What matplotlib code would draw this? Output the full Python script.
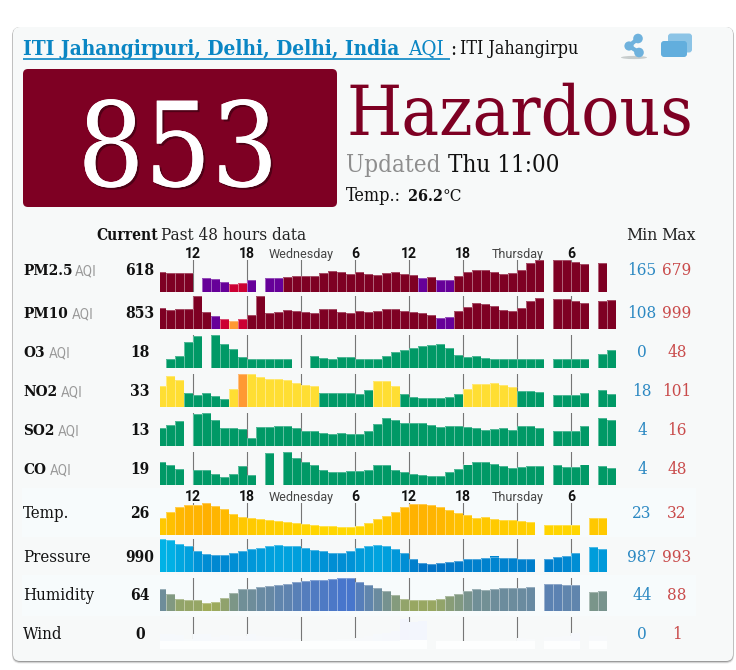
import numpy as np
import matplotlib
matplotlib.use("Agg")
import matplotlib.pyplot as plt
from matplotlib.colors import LinearSegmentedColormap
from matplotlib.patches import FancyBboxPatch, Circle, Rectangle, Ellipse
import matplotlib.patheffects as pe

n = np.nan
row_names = ["PM2.5", "PM10", "O3", "NO2", "SO2", "CO", "Temp.", "Pressure", "Humidity", "Wind"]
row_current = ["618", "853", "18", "33", "13", "19", "26", "990", "64", "0"]
row_min = [165, 108, 0, 18, 4, 4, 23, 987, 44, 0]
row_max = [679, 999, 48, 101, 16, 48, 32, 993, 88, 1]

pm25 = [429,393,393,393,n,293,279,205,165,193,244,n,293,293,322,329,336,336,408,451,415,372,429,379,358,408,429,379,351,293,308,251,251,344,422,472,465,429,386,408,465,608,679,n,679,679,643,601,n,622,n]
pm10 = [559,488,536,536,999,429,286,179,108,179,310,999,381,429,488,464,417,381,536,548,441,393,476,417,476,524,548,476,441,381,334,215,251,476,607,761,725,643,500,464,559,809,916,n,904,892,821,738,n,821,856]
o3 = [n,1,8,34,47,n,48,31,21,6,1,1,1,1,1,n,n,7,3,1,6,6,1,1,1,8,14,19,23,26,29,30,23,9,5,7,3,1,1,1,1,1,1,n,1,1,1,1,n,11,18]
no2 = [60,94,82,37,31,38,28,19,51,101,100,90,86,84,80,70,64,60,38,38,38,37,35,47,78,78,60,36,25,21,21,22,25,33,52,67,67,70,64,57,46,46,40,n,31,31,31,38,n,47,33]
so2 = [8.6,10.2,12.2,n,15.4,15.9,12.4,8.9,8.6,8.3,4.2,9.1,9.2,9.5,9.5,8.6,7.3,7.2,6.5,6.1,6.4,6.1,6.1,7.3,10.6,13.3,12.5,11.1,11,11,10.2,9.1,9.5,9.5,9.1,8.6,7.8,8.4,8.6,8,9.7,9.5,8.9,n,7.2,7.2,7.3,9.7,n,13.6,12.5]
co = [30,25,18,n,16,16,9,4,10,23,8,n,47,n,48,38,31,25,16,12,12,15,15,16,25,25,16,12,9,8,6,6,12,18,26,31,30,27,24,19,22,24,23,n,25,22,21,26,n,23,19]
temp = [26.5,28.4,30.4,31.1,31.1,32,30.8,29.7,27.7,26.6,26.2,25.8,25.6,25.1,24.7,24.5,24,23.7,23.5,23.4,23,23,23.5,24.5,26,27.2,28.7,30.5,31.6,31.4,31.1,30.5,29.2,28.3,27.6,26.5,26.6,26.1,25.7,25.6,25.3,24.8,n,23.9,23.7,23.6,23.6,n,26.5,26.3,n]
pressure = [993,992.8,991.9,991.3,990.1,989.4,989.1,989.2,989.6,990,990.5,990.9,991.3,991.5,991.4,991.2,990.9,990.4,990,989.6,989.6,990,990.8,991.2,991.6,991.2,990.5,989.6,988.2,987.3,987,987.2,987.4,987.7,988.2,988.3,988.5,988.8,988.5,988.4,988.3,988.1,n,988.1,988.6,989,989.6,n,991,990.7,n]
humidity = [69,59.5,51,49.4,49,44,46,52,62,68,69,72,73,76,77,80,82,84,85,86,88,88,81,76,71,65,58,51,48,48,48,51,56,59.5,64,68,67,69,70,70,71,72,n,78,78,76,76,n,63,64,n]
wind = [.3,.3,.25,.1,.28,.3,.15,.25,.22,.2,.28,.2,.15,.15,.12,.1,0,.05,.05,.05,.08,.08,.12,.2,.3,.35,.4,.9,.81,.85,n,.02,.02,.02,0,.02,.02,.02,.02,.02,.12,.08,n,.15,.18,.2,.32,n,.2,.2,n]
series = [pm25, pm10, o3, no2, so2, co, temp, pressure, humidity, wind]

hour_slots = [4, 10, 16, 22, 28, 34, 40, 46]
hour_labels = ["12", "18", "Wednesday", "6", "12", "18", "Thursday", "6"]

AQI_LEVELS = [50, 100, 150, 200, 300]
AQI_COLORS = ["#009966", "#FFDE33", "#FF9933", "#CC0033", "#660099", "#7E0023"]
row_tops = [260, 296, 335, 374, 412.7, 452, 502.7, 539, 578, 617]
row_bases = [292, 329, 367.7, 407, 446, 485, 535, 572, 610.7, 649]
cmaps = {6: ["#FFD800", "#FFB000"], 7: ["#0072C6", "#00B2E6"], 8: ["#A0AC58", "#4876CC"], 9: ["#F8FAFB", "#F2F5FD"]}
text_base = [275, 318, 357, 396, 435, 474, 518, 562, 600, 639]
aqi_x = [75, 72, 49, 61, 58, 50]

W, H = 736, 670
fig = plt.figure(figsize=(W / 100, H / 100), dpi=100, facecolor="white")
bg = fig.add_axes([0, 0, 1, 1], zorder=0)
bg.set_xlim(0, W); bg.set_ylim(H, 0); bg.axis("off")

SERIF = dict(family="DejaVu Serif", stretch="condensed")
def px(p):
    return p * 0.72
def T(x, y, s, size, color="#111111", weight="normal", ha="left", fam=None, **kw):
    props = dict(SERIF) if fam is None else dict(family=fam)
    return bg.text(x, y, s, fontsize=px(size), color=color, weight=weight, ha=ha, va="baseline", zorder=6, **props, **kw)

# card and shadow
for off, a in [(2.6, .10), (1.8, .22), (1.0, .4)]:
    bg.add_patch(FancyBboxPatch((13 - off * .4, 27), 720 + off * .8, 634 + off, boxstyle="round,pad=0,rounding_size=8",
                                fc="#555555", ec="none", alpha=a, zorder=1))
CARD = "#F7F9F9"
bg.add_patch(FancyBboxPatch((13, 27), 720, 634, boxstyle="round,pad=0,rounding_size=7", fc=CARD, ec="none", zorder=2))
for y0, y1 in [(488, 537), (575, 616)]:
    bg.add_patch(Rectangle((22, y0), 674, y1 - y0, fc="#F7FBFC", ec="none", zorder=3))

# title
LINK = "#0A86C4"
t1 = T(23, 55, "ITI Jahangirpuri, Delhi, Delhi, India", 20.8, LINK, "bold")
t2 = T(408, 55, "AQI", 20.5, LINK)
t3 = T(450, 55, ":", 20.5, "#111111")
t4 = T(460, 54, "ITI Jahangirpuri, Delhi", 17.8, "#111111")
t4.set_clip_path(Rectangle((0, 0), 578, H, transform=bg.transData))
t4.set_clip_on(True)
bg.plot([23, 450], [58.5, 58.5], color=LINK, lw=1.2, zorder=6, solid_capstyle="butt")

# share icon and window icon
ic = "#6FB2DD"
bg.add_patch(Ellipse((634, 57.5), 26, 3.2, fc="#C8CDCD", ec="none", zorder=4))
bg.plot([638, 629, 639], [38.5, 46, 52.5], color=ic, lw=3, zorder=5)
for cx, cy, r in [(638, 38.5, 4.8), (629, 46, 4.6), (639, 52.5, 4.8)]:
    bg.add_patch(Circle((cx, cy), r, fc=ic, ec="none", zorder=5))
bg.add_patch(FancyBboxPatch((668, 33.5), 24, 19, boxstyle="round,pad=0,rounding_size=3", fc="#8CC4E6", ec="none", zorder=4))
bg.add_patch(FancyBboxPatch((661, 41), 26, 16, boxstyle="round,pad=0,rounding_size=3", fc="#62AEDD", ec="none", zorder=5))

# big AQI box
bg.add_patch(FancyBboxPatch((23, 69), 314, 138, boxstyle="round,pad=0,rounding_size=5", fc="#7E0023", ec="none", zorder=3))
t = T(178, 186, "853", 117, "white", ha="center")
t.set_path_effects([pe.withSimplePatchShadow(offset=(1.5, -1.5), shadow_rgbFace="#30000E", alpha=.6), pe.Normal()])
T(346, 135, "Hazardous", 70.5, "#7E0023")
T(346, 172, "Updated", 24, "#8E8E8E")
T(448, 172, "Thu 11:00", 24, "#111111")
T(346, 201, "Temp.:", 18, "#111111")
T(408, 201, "26.2", 16, "#111111", "bold")
T(443, 201, "°C", 17, "#111111")

# table headers
T(158, 240, "Current", 15.5, "#111111", "bold", ha="right")
T(161, 240, "Past 48 hours data", 17, "#222222")
T(626, 240, "Min", 17.5, "#222222")
T(661, 240, "Max", 17.5, "#222222")

slots = np.arange(len(pm25))
X0, X1, SLOT0 = 160, 616, 156.7
tick_pos = [s + 0.067 for s in hour_slots]
for i, name in enumerate(row_names):
    top, base = row_tops[i], row_bases[i]
    ax = fig.add_axes([X0 / W, 1 - base / H, (X1 - X0) / W, (base - top) / H], zorder=2)
    ax.patch.set_alpha(0)
    for s in ax.spines.values():
        s.set_visible(False)
    ax.set_xlim((X0 - SLOT0) / 9, (X1 - SLOT0) / 9)
    span = row_max[i] - row_min[i]
    lo = row_min[i] - span * 8 / (base - top - 8)
    ax.set_ylim(lo, row_max[i])
    vals = np.array(series[i], float)
    if i in cmaps:
        cm = LinearSegmentedColormap.from_list("r", cmaps[i])
        cols = [cm((v - row_min[i]) / span) if v == v else "none" for v in vals]
    else:
        cols = [AQI_COLORS[int(np.searchsorted(AQI_LEVELS, v))] if v == v else "none" for v in vals]
    ax.bar(slots, np.nan_to_num(vals - lo), bottom=lo, width=1.0, align="edge", color=cols, lw=0, zorder=3)
    if i == 9:
        ax.bar(slots, np.where(np.isnan(vals), 0, row_min[i] - lo + np.nan_to_num(vals) * 0.03), bottom=lo, width=1.0,
               align="edge", color="#FDFEFE", lw=0, zorder=3.5)
    else:
        ax.hlines(vals, slots, slots + 1, color="white", alpha=0.3, lw=0.8, zorder=4)
        ax.vlines(slots, lo, vals, color="white", alpha=0.4, lw=0.7, zorder=4)
    ax.set_xticks(tick_pos)
    ax.set_yticks([])
    ax.set_axisbelow(True)
    ax.grid(axis="x", color="#767676", lw=0.8, zorder=1)
    ax.tick_params(axis="x", length=0, bottom=False, labelbottom=False)
    if i in (0, 6):
        ax.xaxis.set_ticks_position("top")
        ax.tick_params(axis="x", top=False, labeltop=True, pad=-0.8)
        ax.set_xticklabels(hour_labels)
        for lab, txt in zip(ax.get_xticklabels(), hour_labels):
            if txt.isdigit():
                lab.set(family="Roboto", weight="bold", fontsize=px(14), color="#111111")
            else:
                lab.set(family="Roboto", fontsize=px(12.5), color="#444444")
    y = text_base[i]
    bold = i < 6
    if bold:
        T(23, y, name, 15.3, "#111111", "bold")
        T(aqi_x[i], y, "AQI", 13.5, "#9A9A9A", fam="Roboto")
    else:
        T(23, y, name, 16.8, "#111111")
    T(140, y, row_current[i], 15.5, "#111111", "bold", ha="center")
    T(642, y, str(row_min[i]), 17, "#2B88C2", ha="center")
    T(677, y, str(row_max[i]), 17, "#C94B4B", ha="center")

fig.savefig("out.png", dpi=100, facecolor="white")
